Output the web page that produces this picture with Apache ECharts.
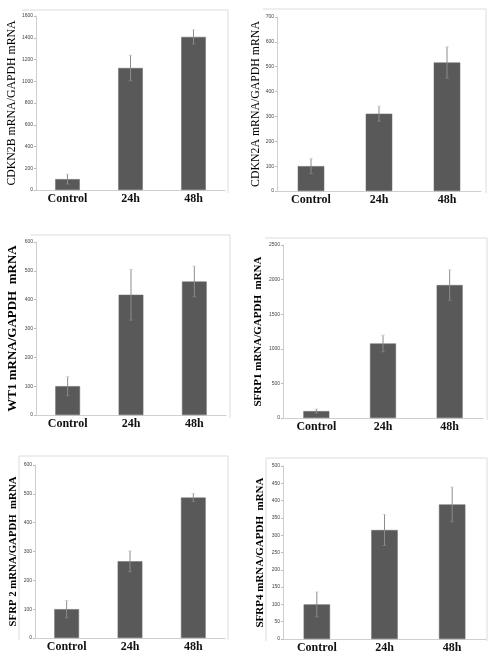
<!DOCTYPE html>
<html><head><meta charset="utf-8">
<script src="https://cdn.jsdelivr.net/npm/echarts@6/dist/echarts.min.js"></script>
<style>html,body{margin:0;padding:0;background:#fff}#c{width:499px;height:658px}</style>
</head><body><div id="c"></div>
<script>
const categories = ['Control', '24h', '48h'];

const cdkn2bMean = [100, 1122, 1408];
const cdkn2bErr  = [45, 118, 65];
const cdkn2aMean = [100, 311, 517];
const cdkn2aErr  = [30, 30, 63];
const wt1Mean    = [100, 417, 463];
const wt1Err     = [33, 88, 53];
const sfrp1Mean  = [100, 1077, 1921];
const sfrp1Err   = [30, 120, 220];
const sfrp2Mean  = [100, 266, 487];
const sfrp2Err   = [30, 36, 14];
const sfrp4Mean  = [100, 315, 389];
const sfrp4Err   = [36, 45, 50];

const yMax      = [1600, 700, 600, 2500, 600, 500];
const yInterval = [200, 100, 100, 500, 100, 50];
const yNames = ['CDKN2B mRNA/GAPDH mRNA', 'CDKN2A mRNA/GAPDH mRNA', 'WT1 mRNA/GAPDH  mRNA',
                'SFRP1 mRNA/GAPDH  mRNA', 'SFRP 2 mRNA/GAPDH  mRNA', 'SFRP4 mRNA/GAPDH  mRNA'];

const panels = [
  {mean: cdkn2bMean, err: cdkn2bErr},
  {mean: cdkn2aMean, err: cdkn2aErr},
  {mean: wt1Mean, err: wt1Err},
  {mean: sfrp1Mean, err: sfrp1Err},
  {mean: sfrp2Mean, err: sfrp2Err},
  {mean: sfrp4Mean, err: sfrp4Err}
];

// layout (pixels)
const grids = [
  {left: 36,  top: 16,  width: 189, height: 174},
  {left: 277, top: 17,  width: 204, height: 174},
  {left: 36,  top: 242, width: 190, height: 173},
  {left: 283, top: 245, width: 200, height: 173},
  {left: 35,  top: 465, width: 190, height: 173},
  {left: 283, top: 466, width: 203, height: 173}
];
const nameStyle = [
  {fontSize: 11.8, fontWeight: 'normal', gap: 22},
  {fontSize: 11.8, fontWeight: 'normal', gap: 17},
  {fontSize: 13, fontWeight: 'bold', gap: 23},
  {fontSize: 11, fontWeight: 'bold', gap: 25},
  {fontSize: 10.8, fontWeight: 'bold', gap: 22},
  {fontSize: 11, fontWeight: 'bold', gap: 23}
];
const frames = [
  {x1: 22, x2: 228, y1: 10, y2: 193, left: false},
  {x1: 263, x2: 486, y1: 9, y2: 193, left: false},
  {x1: 30, x2: 230, y1: 235, y2: 418, left: false},
  {x1: 265, x2: 487, y1: 238, y2: 420, left: false},
  {x1: 19, x2: 228, y1: 456, y2: 640, left: true},
  {x1: 266, x2: 487, y1: 458, y2: 641, left: true}
];

const serif = '"Liberation Serif", "Times New Roman", serif';

const option = {
  backgroundColor: '#fff',
  animation: false,
  grid: grids.map(g => Object.assign({containLabel: false}, g)),
  xAxis: grids.map((g, i) => ({
    type: 'category', gridIndex: i, data: categories,
    axisLine: {lineStyle: {color: '#cfcfcf', width: 1}},
    axisTick: {show: false},
    axisLabel: {fontFamily: serif, fontWeight: 'bold', fontSize: 12, color: '#111', margin: 3}
  })),
  yAxis: grids.map((g, i) => ({
    type: 'value', gridIndex: i, min: 0, max: yMax[i], interval: yInterval[i],
    name: yNames[i], nameLocation: 'middle', nameRotate: 90, nameGap: nameStyle[i].gap,
    nameTextStyle: {fontFamily: serif, fontSize: nameStyle[i].fontSize, fontWeight: nameStyle[i].fontWeight,
                    color: '#000', verticalAlign: 'middle'},
    axisLine: {show: true, lineStyle: {color: '#cfcfcf', width: 1}},
    axisTick: {show: true, length: 2, inside: false, lineStyle: {color: '#bbb'}},
    splitLine: {show: false},
    axisLabel: {fontSize: 5, color: '#444', margin: 3, fontFamily: 'Arial, "Liberation Sans", sans-serif',
                formatter: v => String(v)}
  })),
  series: [],
  graphic: []
};

panels.forEach((p, i) => {
  option.series.push({
    type: 'bar', xAxisIndex: i, yAxisIndex: i, data: p.mean, barWidth: '39%',
    itemStyle: {color: '#595959', borderColor: '#6a6a6a', borderWidth: 0.5},
    z: 2
  });
  option.series.push({
    type: 'custom', xAxisIndex: i, yAxisIndex: i,
    data: p.mean.map((m, k) => [k, m - p.err[k], m + p.err[k]]),
    renderItem: function (params, api) {
      const lo = api.coord([api.value(0), api.value(1)]);
      const hi = api.coord([api.value(0), api.value(2)]);
      const cap = 2;
      return {
        type: 'group',
        children: [
          {type: 'line', shape: {x1: hi[0], y1: hi[1], x2: lo[0], y2: lo[1]},
           style: {stroke: '#8c8c8c', lineWidth: 1}},
          {type: 'line', shape: {x1: hi[0] - cap, y1: hi[1], x2: hi[0] + cap, y2: hi[1]},
           style: {stroke: '#c8c8c8', lineWidth: 0.6}},
          {type: 'line', shape: {x1: lo[0] - cap, y1: lo[1], x2: lo[0] + cap, y2: lo[1]},
           style: {stroke: '#8c8c8c', lineWidth: 0.6}}
        ]
      };
    },
    encode: {x: 0, y: [1, 2]},
    z: 3
  });
});

frames.forEach(f => {
  const pts = f.left ? [[f.x1, f.y2], [f.x1, f.y1], [f.x2, f.y1], [f.x2, f.y2]]
                     : [[f.x1, f.y1], [f.x2, f.y1], [f.x2, f.y2]];
  option.graphic.push({
    type: 'polyline', shape: {points: pts}, silent: true, z: 0,
    style: {stroke: '#dcdcdc', lineWidth: 1, fill: null}
  });
});

const chart = echarts.init(document.getElementById('c'), null, {renderer: 'canvas'});
chart.setOption(option);
</script>
</body></html>
